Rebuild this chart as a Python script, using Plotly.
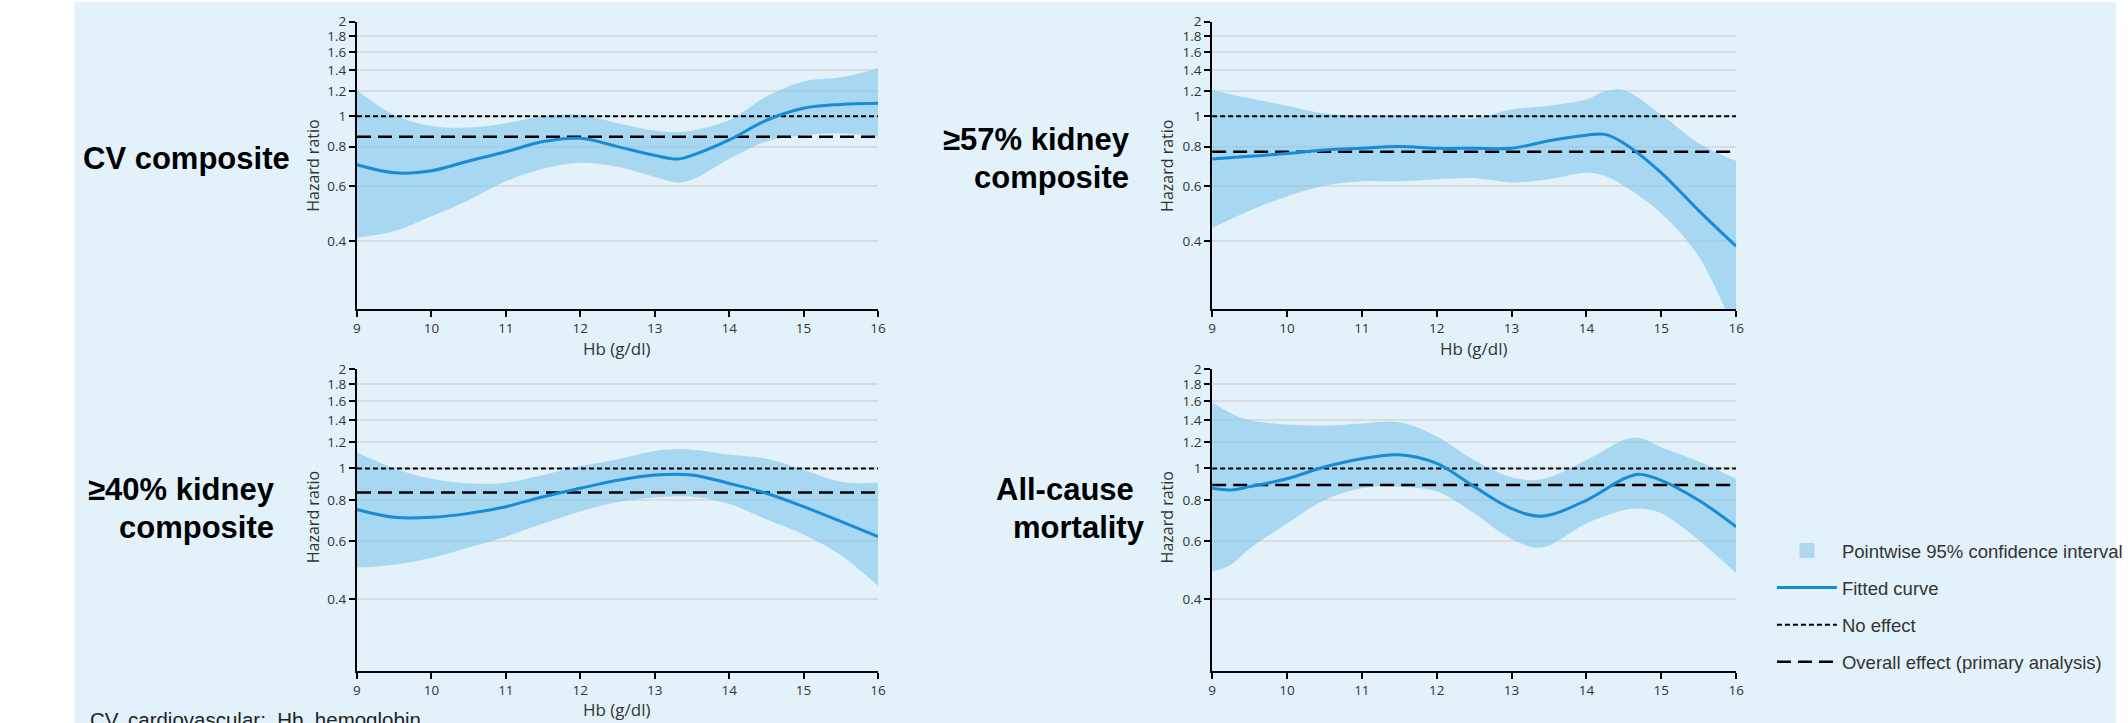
import math
import plotly.graph_objects as go

W, H = 2128, 723

# ---------------- data ----------------
hb_cv = [9, 9.5, 10, 10.5, 11, 11.5, 12, 12.5, 13, 13.3, 13.5, 14, 14.5, 15, 15.5, 16]
fit_cv = [0.70, 0.66, 0.67, 0.72, 0.77, 0.83, 0.85, 0.80, 0.75, 0.73, 0.75, 0.84, 0.97, 1.06, 1.09, 1.10]
up_cv = [1.21, 1.01, 0.93, 0.92, 0.95, 1.00, 1.01, 0.95, 0.90, 0.89, 0.90, 0.97, 1.155, 1.29, 1.33, 1.42]
lo_cv = [0.41, 0.43, 0.48, 0.54, 0.62, 0.68, 0.71, 0.69, 0.64, 0.615, 0.627, 0.73, 0.83, 0.87, 0.88, 0.86]

hb_k57 = [9, 9.5, 10, 10.5, 11, 11.5, 12, 12.5, 13, 13.5, 14, 14.25, 14.5, 15, 15.5, 16]
fit_k57 = [0.73, 0.745, 0.76, 0.78, 0.79, 0.80, 0.79, 0.79, 0.79, 0.835, 0.87, 0.875, 0.82, 0.66, 0.50, 0.385]
up_k57 = [1.21, 1.14, 1.08, 1.02, 1.00, 1.00, 1.00, 0.985, 1.05, 1.08, 1.13, 1.20, 1.21, 1.01, 0.82, 0.72]
lo_k57 = [0.44, 0.50, 0.555, 0.60, 0.62, 0.62, 0.63, 0.635, 0.615, 0.63, 0.66, 0.645, 0.60, 0.49, 0.357, 0.20]

hb_k40 = [9, 9.5, 10, 10.5, 11, 11.5, 12, 12.5, 13, 13.5, 14, 14.5, 15, 15.5, 16]
fit_k40 = [0.75, 0.71, 0.71, 0.73, 0.765, 0.82, 0.87, 0.92, 0.955, 0.955, 0.90, 0.84, 0.765, 0.69, 0.62]
up_k40 = [1.12, 1.00, 0.93, 0.90, 0.905, 0.955, 1.016, 1.065, 1.13, 1.14, 1.10, 1.07, 0.99, 0.91, 0.905]
lo_k40 = [0.50, 0.51, 0.535, 0.575, 0.62, 0.68, 0.74, 0.79, 0.815, 0.82, 0.78, 0.70, 0.63, 0.545, 0.44]

hb_acm = [9, 9.25, 9.5, 10, 10.5, 11, 11.5, 12, 12.5, 13, 13.4, 14, 14.5, 14.7, 15, 15.5, 16]
fit_acm = [0.87, 0.86, 0.88, 0.93, 1.01, 1.07, 1.10, 1.035, 0.88, 0.755, 0.716, 0.80, 0.93, 0.96, 0.92, 0.80, 0.665]
up_acm = [1.59, 1.47, 1.40, 1.36, 1.35, 1.37, 1.38, 1.25, 1.06, 0.94, 0.926, 1.06, 1.22, 1.24, 1.16, 1.05, 0.93]
lo_acm = [0.485, 0.51, 0.57, 0.68, 0.80, 0.87, 0.88, 0.85, 0.73, 0.61, 0.575, 0.68, 0.747, 0.755, 0.73, 0.605, 0.48]

overall_effect = [0.86, 0.77, 0.845, 0.89]
no_effect = 1.0
panel_titles = [["CV composite"], ["≥57% kidney", "composite"], ["≥40% kidney", "composite"], ["All-cause", "mortality"]]

hb_ticks = [9, 10, 11, 12, 13, 14, 15, 16]
hr_ticks = [0.4, 0.6, 0.8, 1, 1.2, 1.4, 1.6, 1.8, 2]
hr_tick_text = ["0.4", "0.6", "0.8", "1", "1.2", "1.4", "1.6", "1.8", "2"]

legend_names = ["Pointwise 95% confidence interval", "Fitted curve", "No effect",
                "Overall effect (primary analysis)"]

# ---------------- style ----------------
BG = "#E3F2FA"
BAND = "rgba(130,198,236,0.62)"
BAND_SOLID = "#ADD8F0"
CURVE = "#178BD6"
GRID = "#D8DCDF"
TXT = "#333333"
TICKFONT = dict(family="Open Sans, Liberation Sans, Arial", size=13.5, color=TXT)

Y_LO, Y_HI = 0.243, 2.0


def px_x(p):
    return p / W


def px_y(p):
    return 1 - p / H


panels = [
    dict(hb=hb_cv, fit=fit_cv, up=up_cv, lo=lo_cv, xd=(359, 883), yd=(21.7, 309)),
    dict(hb=hb_k57, fit=fit_k57, up=up_k57, lo=lo_k57, xd=(1219, 1746), yd=(21.7, 309)),
    dict(hb=hb_k40, fit=fit_k40, up=up_k40, lo=lo_k40, xd=(359, 883), yd=(369.3, 670.6)),
    dict(hb=hb_acm, fit=fit_acm, up=up_acm, lo=lo_acm, xd=(1219, 1746), yd=(369.3, 670.6)),
]

fig = go.Figure()
layout = {}
for i, p in enumerate(panels):
    n = "" if i == 0 else str(i + 1)
    xa, ya = "x" + n, "y" + n
    fig.add_trace(go.Scatter(x=p["hb"], y=p["lo"], mode="lines", line=dict(width=0, shape="spline", smoothing=1),
                             xaxis=xa, yaxis=ya, showlegend=False, hoverinfo="skip"))
    fig.add_trace(go.Scatter(x=p["hb"], y=p["up"], mode="lines", line=dict(width=0, shape="spline", smoothing=1),
                             fill="tonexty", fillcolor=BAND, xaxis=xa, yaxis=ya, showlegend=False,
                             hoverinfo="skip"))
    fig.add_trace(go.Scatter(x=[hb_ticks[0], hb_ticks[-1]], y=[no_effect, no_effect], mode="lines",
                             line=dict(color="black", width=2, dash="5px,3px"),
                             xaxis=xa, yaxis=ya, showlegend=False))
    fig.add_trace(go.Scatter(x=[hb_ticks[0], hb_ticks[-1]], y=[overall_effect[i]] * 2, mode="lines",
                             line=dict(color="black", width=2.5, dash="14px,7px"),
                             xaxis=xa, yaxis=ya, showlegend=False))
    fig.add_trace(go.Scatter(x=p["hb"], y=p["fit"], mode="lines",
                             line=dict(color=CURVE, width=3, shape="spline", smoothing=1),
                             xaxis=xa, yaxis=ya, showlegend=False))

    layout["xaxis" + n] = dict(
        domain=[px_x(p["xd"][0]), px_x(p["xd"][1])], anchor=ya, range=[9, 16],
        tickvals=hb_ticks, ticks="outside", ticklen=6, tickwidth=2, tickcolor="black",
        showline=True, linecolor="black", linewidth=2, showgrid=False, zeroline=False,
        tickfont=TICKFONT, fixedrange=True, automargin=False)
    layout["yaxis" + n] = dict(
        domain=[px_y(p["yd"][1]), px_y(p["yd"][0])], anchor=xa, type="log",
        range=[math.log10(Y_LO), math.log10(Y_HI)],
        tickvals=hr_ticks, ticktext=hr_tick_text, ticks="outside", ticklen=6, tickwidth=2,
        tickcolor="black", showline=True, linecolor="black", linewidth=2,
        showgrid=True, gridcolor=GRID, gridwidth=2, zeroline=False,
        tickfont=TICKFONT, fixedrange=True, automargin=False)

fig.add_trace(go.Scatter(x=[None], y=[None], mode="markers", name=legend_names[0],
                         marker=dict(symbol="square", size=15, color=BAND_SOLID), legendgroup="a"))
fig.add_trace(go.Scatter(x=[None], y=[None], mode="lines", name=legend_names[1],
                         line=dict(color=CURVE, width=3), legendgroup="b"))
fig.add_trace(go.Scatter(x=[None], y=[None], mode="lines", name=legend_names[2],
                         line=dict(color="black", width=2, dash="5px,3px"), legendgroup="c"))
fig.add_trace(go.Scatter(x=[None], y=[None], mode="lines", name=legend_names[3],
                         line=dict(color="black", width=2.5, dash="14px,7px"), legendgroup="d"))

ann = []
TITLE_FONT = dict(family="Liberation Sans, Arial", size=31, color="black")
BOLD = lambda s: "<b>" + s + "</b>"
ann.append(dict(text=BOLD(panel_titles[0][0]), x=px_x(81), y=px_y(158), xanchor="left", yanchor="middle"))
ann.append(dict(text=BOLD(panel_titles[1][0]), x=px_x(1138), y=px_y(140), xanchor="right", yanchor="middle"))
ann.append(dict(text=BOLD(panel_titles[1][1]), x=px_x(1137), y=px_y(177), xanchor="right", yanchor="middle"))
ann.append(dict(text=BOLD(panel_titles[2][0]), x=px_x(279), y=px_y(489), xanchor="right", yanchor="middle"))
ann.append(dict(text=BOLD(panel_titles[2][1]), x=px_x(278), y=px_y(527), xanchor="right", yanchor="middle"))
ann.append(dict(text=BOLD(panel_titles[3][0]), x=px_x(1000), y=px_y(489), xanchor="left", yanchor="middle"))
ann.append(dict(text=BOLD(panel_titles[3][1]), x=px_x(1017), y=px_y(527), xanchor="left", yanchor="middle"))
for a in ann:
    a["font"] = TITLE_FONT

AX_FONT = dict(family="Open Sans, Liberation Sans, Arial", size=16, color=TXT)
for (xp, yp) in [(315, 165.5), (1174, 165.5), (315, 517), (1174, 517)]:
    ann.append(dict(text="Hazard ratio", x=px_x(xp), y=px_y(yp), textangle=-90,
                    xanchor="center", yanchor="middle", font=AX_FONT))
HB_FONT = dict(family="Open Sans, Liberation Sans, Arial", size=17, color=TXT)
for (xp, yp) in [(621, 348), (1482, 348), (621, 709)]:
    ann.append(dict(text="Hb (g/dl)", x=px_x(xp), y=px_y(yp), xanchor="center", yanchor="middle", font=HB_FONT))

ann.append(dict(text="CV, cardiovascular;  Hb, hemoglobin", x=px_x(89), y=px_y(706), xanchor="left",
                yanchor="top", font=dict(family="Liberation Sans, Arial", size=20.5, color="#222222")))

for a in ann:
    a.update(xref="paper", yref="paper", showarrow=False)

fig.update_layout(
    width=W, height=H, margin=dict(l=0, r=0, t=0, b=0),
    paper_bgcolor="white", plot_bgcolor="rgba(0,0,0,0)",
    shapes=[dict(type="rect", xref="paper", yref="paper", x0=px_x(75), x1=1, y0=0, y1=px_y(2),
                 fillcolor=BG, line=dict(width=0), layer="below")],
    annotations=ann,
    showlegend=True,
    legend=dict(x=px_x(1782), y=px_y(532), xanchor="left", yanchor="top", bgcolor="rgba(0,0,0,0)",
                font=dict(family="Liberation Sans, Arial", size=18.5, color=TXT),
                traceorder="grouped", tracegroupgap=10, itemwidth=60),
    **layout,
)

fig.write_html("out.html", config={"displayModeBar": False},
               post_script="document.body.style.margin='0px';document.body.style.overflow='hidden';")
